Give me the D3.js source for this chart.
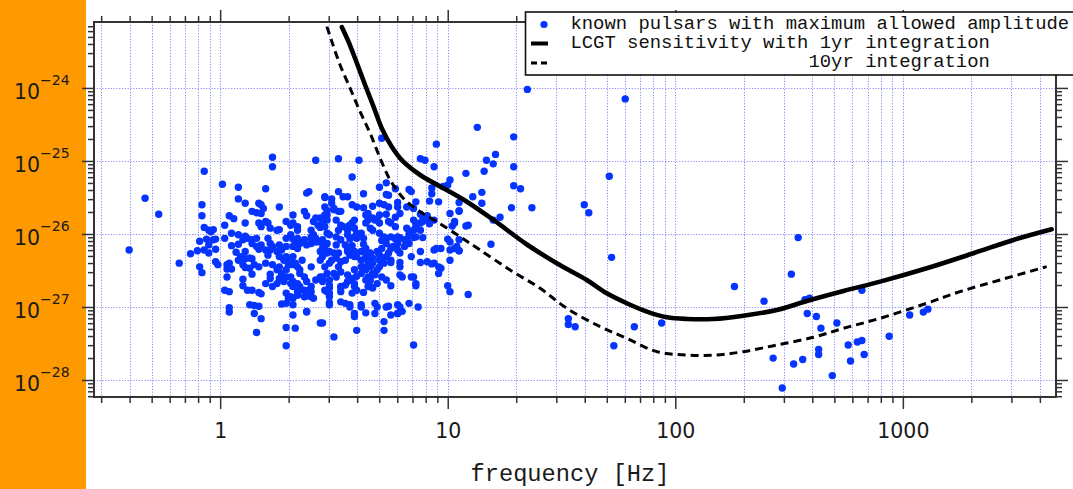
<!DOCTYPE html>
<html>
<head>
<meta charset="utf-8">
<script src="https://cdn.jsdelivr.net/npm/d3@7"></script>
<style>
  html, body { margin: 0; padding: 0; background: #fff; overflow: hidden; }
  svg { display: block; }
</style>
</head>
<body>
<svg id="chart" width="1073" height="489"></svg>
<script>
// LCGT sensitivity, 1 yr integration: log10 frequency [Hz] and log10 strain amplitude
const sens1yrLogF = [0.535,0.564,0.601,0.637,0.674,0.710,0.754,0.805,0.879,0.981,1.084,1.201,1.348,1.479,1.611,1.699,1.787,1.875,1.963,2.051,2.167,2.299,2.446,2.578,2.739,2.900,3.105,3.310,3.486,3.654];
const sens1yrLogH = [-23.168,-23.366,-23.662,-23.959,-24.256,-24.552,-24.804,-25.010,-25.192,-25.374,-25.558,-25.808,-26.144,-26.401,-26.630,-26.812,-26.949,-27.064,-27.141,-27.164,-27.164,-27.119,-27.041,-26.918,-26.781,-26.653,-26.470,-26.264,-26.082,-25.936];

// LCGT sensitivity, 10 yr integration
const sens10yrLogF = [0.469,0.491,0.527,0.571,0.615,0.659,0.703,0.747,0.805,0.879,0.952,1.054,1.142,1.274,1.406,1.523,1.670,1.787,1.919,2.051,2.182,2.299,2.446,2.607,2.739,2.900,3.105,3.251,3.427,3.632];
const sens10yrLogH = [-23.160,-23.366,-23.685,-24.004,-24.325,-24.621,-24.963,-25.260,-25.511,-25.695,-25.832,-26.037,-26.219,-26.493,-26.744,-27.018,-27.270,-27.429,-27.612,-27.658,-27.658,-27.612,-27.521,-27.415,-27.292,-27.155,-26.949,-26.790,-26.630,-26.448];

// Known pulsars with maximum allowed amplitude: [log10 f, log10 h]
const pulsars = [
  [-0.40,-26.22],[-0.33,-25.51],[-0.27,-25.73],[-0.18,-26.40],[-0.13,-26.27],[-0.10,-26.23],[-0.09,-26.10],[-0.08,-25.60],
  [-0.08,-25.75],[-0.07,-25.14],[-0.07,-25.91],[-0.06,-26.07],[-0.05,-26.15],[-0.05,-26.26],[-0.05,-25.95],[-0.03,-25.94],
  [-0.02,-26.07],[-0.02,-26.21],[-0.02,-26.38],[-0.01,-26.42],[-0.09,-26.45],[-0.08,-26.53],[-0.03,-26.08],[-0.07,-26.22],[-0.04,-25.97],
  [0.01,-25.32],[0.02,-25.88],[0.04,-25.75],[0.06,-25.79],[0.05,-26.16],[0.07,-26.25],[0.03,-26.48],[0.03,-26.59],[0.02,-26.77],
  [0.04,-26.79],[0.04,-27.01],[0.04,-27.07],[0.08,-25.36],[0.08,-25.52],[0.11,-25.58],[0.11,-25.85],[0.08,-26.01],[0.11,-26.03],
  [0.08,-26.14],[0.11,-26.34],[0.11,-26.46],[0.14,-26.34],[0.14,-26.55],[0.10,-26.62],[0.10,-26.71],[0.12,-26.77],[0.14,-26.77],
  [0.17,-26.80],[0.18,-26.82],[0.13,-26.97],[0.15,-26.98],[0.17,-26.99],[0.15,-27.09],[0.18,-27.16],[0.16,-27.35],[0.02,-26.06],
  [0.05,-25.99],[0.10,-26.08],[0.12,-26.06],[0.14,-26.08],[0.16,-26.06],[0.14,-26.13],[0.16,-26.17],[0.17,-26.21],[0.18,-26.15],
  [0.21,-26.06],[0.22,-26.13],[0.20,-26.22],[0.22,-26.22],[0.21,-26.29],[0.23,-26.17],[0.25,-26.24],[0.26,-26.15],[0.27,-26.22],
  [0.26,-26.31],[0.11,-26.24],[0.09,-26.31],[0.08,-26.36],[0.10,-26.42],[0.13,-26.33],[0.15,-26.42],[0.13,-26.47],[0.17,-26.45],
  [0.03,-26.42],[0.04,-26.40],[0.05,-26.48],[0.22,-26.55],
  [0.23,-24.95],[0.23,-25.08],[0.42,-24.99],[0.20,-25.38],[0.39,-25.42],[0.38,-25.44],[0.46,-25.49],[0.17,-25.58],[0.18,-25.60],
  [0.26,-25.63],[0.14,-25.69],[0.16,-25.71],[0.18,-25.72],[0.19,-25.65],[0.32,-25.74],[0.37,-25.69],[0.38,-25.75],[0.44,-25.78],
  [0.47,-25.74],[0.17,-25.85],[0.18,-25.90],[0.20,-25.83],[0.21,-25.85],[0.22,-25.92],[0.26,-25.94],[0.25,-25.95],[0.29,-25.83],
  [0.31,-25.88],[0.32,-25.85],[0.34,-25.90],[0.34,-25.95],[0.41,-25.83],[0.43,-25.88],[0.40,-25.95],[0.44,-25.91],[0.45,-25.85],
  [0.29,-26.06],[0.31,-26.01],[0.32,-26.07],[0.34,-26.06],[0.33,-26.13],[0.32,-26.17],[0.34,-26.20],[0.35,-26.13],[0.37,-26.08],
  [0.38,-26.15],[0.40,-26.13],[0.40,-26.06],[0.41,-26.01],[0.42,-26.06],[0.42,-26.11],[0.44,-26.11],[0.45,-26.08],[0.47,-26.13],
  [0.45,-26.20],[0.28,-26.36],[0.29,-26.31],[0.31,-26.36],[0.30,-26.42],[0.32,-26.42],[0.33,-26.40],[0.34,-26.45],[0.35,-26.49],
  [0.36,-26.36],[0.27,-26.54],[0.26,-26.61],[0.25,-26.68],[0.28,-26.65],[0.29,-26.59],[0.31,-26.59],[0.31,-26.68],[0.32,-26.65],
  [0.34,-26.68],[0.32,-26.72],[0.35,-26.72],[0.37,-26.59],[0.38,-26.65],[0.40,-26.72],[0.39,-26.77],[0.40,-26.79],[0.37,-26.77],
  [0.42,-26.63],[0.44,-26.59],[0.47,-26.54],[0.45,-26.65],[0.48,-26.74],[0.47,-26.79],[0.29,-26.81],[0.30,-26.88],[0.29,-26.95],
  [0.32,-26.88],[0.34,-26.84],[0.34,-26.79],[0.37,-26.86],[0.38,-26.85],[0.40,-26.86],[0.27,-26.96],[0.32,-27.11],[0.29,-27.28],
  [0.33,-27.29],[0.38,-27.07],[0.44,-27.22],[0.29,-27.53],[0.50,-27.41],[0.20,-26.40],[0.23,-26.42],[0.25,-26.49],[0.22,-26.61],
  [0.20,-26.68],[0.23,-26.72],
  [0.71,-24.69],[0.95,-24.77],[0.52,-24.97],[0.61,-24.99],[0.88,-24.97],[0.90,-24.99],[0.94,-25.08],[1.08,-25.17],[0.58,-25.22],
  [0.73,-25.30],[1.01,-25.26],[1.00,-25.33],[0.70,-25.36],[0.77,-25.38],[0.93,-25.37],[0.98,-25.35],[0.83,-25.39],[0.84,-25.42],
  [0.52,-25.42],[0.63,-25.45],[0.74,-25.47],[0.46,-25.50],[0.49,-25.52],[0.49,-25.58],[0.56,-25.49],[0.93,-25.45],[0.92,-25.55],
  [0.96,-25.56],[0.86,-25.56],[1.05,-25.57],[0.70,-25.58],[0.58,-25.60],[0.60,-25.63],[0.78,-25.57],[0.78,-25.63],[0.82,-25.63],
  [0.67,-25.62],[0.72,-25.60],[0.74,-25.63],[0.73,-25.73],[0.46,-25.63],[0.47,-25.68],[0.50,-25.67],[0.53,-25.69],[0.63,-25.64],
  [0.85,-25.65],[0.88,-25.73],[0.89,-25.76],[0.91,-25.75],[1.01,-25.72],[1.05,-25.69],[0.79,-25.72],[0.64,-25.74],[0.67,-25.78],
  [0.65,-25.81],[0.70,-25.74],[0.69,-25.81],[0.70,-25.85],[0.47,-25.81],[0.51,-25.81],[0.53,-25.88],[0.52,-25.95],[0.59,-25.81],
  [0.58,-25.85],[0.56,-25.90],[0.59,-25.92],[0.56,-25.95],[0.74,-25.83],[0.75,-25.85],[0.77,-25.77],[0.77,-25.90],[0.85,-25.81],
  [0.86,-25.85],[0.86,-25.90],[0.88,-25.95],[0.89,-25.83],[0.92,-25.81],[0.92,-25.86],[1.03,-25.83],[1.02,-25.89],[1.08,-25.89],
  [0.66,-25.92],[0.67,-25.95],[0.82,-25.92],[0.83,-25.96],[0.46,-25.90],[0.47,-25.99],[0.48,-26.01],[0.62,-25.99],[0.63,-26.06],
  [0.60,-26.06],[0.70,-25.99],[0.72,-26.04],[0.73,-26.06],[0.71,-26.09],[0.73,-26.13],[0.75,-26.04],[0.77,-26.07],[0.79,-26.05],
  [0.78,-26.13],[0.81,-26.08],[0.83,-26.13],[0.83,-26.01],[0.85,-26.05],[0.86,-26.04],[0.89,-26.05],[1.00,-26.07],[1.05,-26.08],
  [1.04,-26.17],[0.51,-26.04],[0.53,-26.08],[0.51,-26.15],[0.56,-26.01],[0.57,-26.07],[0.59,-26.04],[0.45,-26.13],[0.46,-26.20],
  [0.44,-26.24],[0.47,-26.26],[0.45,-26.31],[0.48,-26.24],[0.50,-26.26],[0.52,-26.26],[0.51,-26.33],[0.53,-26.38],[0.49,-26.36],
  [0.55,-26.15],[0.56,-26.22],[0.58,-26.16],[0.59,-26.24],[0.57,-26.29],[0.59,-26.31],[0.55,-26.36],[0.63,-26.14],[0.64,-26.20],
  [0.62,-26.24],[0.66,-26.26],[0.64,-26.31],[0.67,-26.33],[0.65,-26.38],[0.62,-26.36],[0.69,-26.24],[0.71,-26.20],[0.70,-26.29],
  [0.73,-26.31],[0.71,-26.36],[0.74,-26.26],[0.75,-26.36],[0.76,-26.17],[0.78,-26.22],[0.79,-26.26],[0.81,-26.17],[0.88,-26.24],
  [0.84,-26.31],[0.94,-26.22],[0.97,-26.20],[1.01,-26.22],[1.03,-26.20],[1.05,-26.23],[0.94,-26.40],[0.96,-26.45],[0.91,-26.38],
  [0.93,-26.41],[0.88,-26.39],[0.97,-26.47],[0.96,-26.54],[1.01,-26.36],[0.79,-26.39],[0.79,-26.45],[0.75,-26.39],[0.72,-26.40],
  [0.70,-26.45],[0.69,-26.49],[0.68,-26.56],[0.66,-26.45],[0.64,-26.49],[0.67,-26.54],[0.65,-26.59],[0.64,-26.63],[0.62,-26.45],
  [0.62,-26.54],[0.60,-26.58],[0.59,-26.49],[0.58,-26.61],[0.56,-26.56],[0.56,-26.65],[0.55,-26.70],[0.52,-26.45],[0.53,-26.52],
  [0.50,-26.54],[0.51,-26.59],[0.48,-26.40],[0.46,-26.45],[0.45,-26.59],[0.48,-26.63],[0.48,-26.70],[0.46,-26.77],[0.53,-26.72],
  [0.53,-26.79],[0.59,-26.72],[0.60,-26.77],[0.58,-26.81],[0.63,-26.80],[0.65,-26.72],[0.67,-26.74],[0.69,-26.68],[0.66,-26.63],
  [0.71,-26.59],[0.75,-26.71],[0.80,-26.59],[0.84,-26.59],[0.86,-26.71],[1.00,-26.71],[1.01,-26.79],[1.09,-26.83],[0.48,-26.86],
  [0.48,-26.94],[0.53,-26.93],[0.55,-26.95],[0.57,-27.00],[0.59,-27.09],[0.59,-27.13],[0.62,-26.97],[0.64,-27.08],[0.68,-26.95],
  [0.68,-27.09],[0.74,-26.99],[0.78,-26.97],[0.80,-27.06],[0.78,-27.09],[0.75,-27.11],[0.87,-27.00],[0.72,-27.20],[0.72,-27.32],
  [0.60,-27.32],[0.45,-27.22],[0.85,-27.52],
  [0.42,-25.78],[0.46,-25.74],[0.50,-25.65],[0.52,-25.69],[0.54,-25.49],[0.65,-25.72],[0.73,-25.46],[0.64,-25.85],[0.68,-25.81],
  [0.57,-25.88],[0.54,-25.90],[0.60,-25.99],[0.40,-26.04],[0.29,-26.17],[0.32,-26.31],[0.26,-26.45],[0.29,-26.49],[0.35,-26.54],
  [0.40,-26.45],[0.44,-26.36],[0.56,-26.24],[0.60,-26.31],[0.64,-26.24],[0.63,-26.45],[0.67,-26.40],[0.70,-26.36],[0.75,-26.20],
  [0.78,-26.04],[0.82,-26.08],[0.85,-25.95],[0.88,-25.85],[0.94,-25.81],[0.95,-26.20],[1.01,-26.11],[1.03,-25.85],[0.86,-26.68],
  [0.85,-26.59],[0.79,-26.56],[0.73,-26.63],[0.66,-26.72],[0.59,-26.68],[0.53,-26.74],[0.48,-26.81],[0.41,-26.88],[0.35,-26.77],
  [0.31,-26.86],[0.32,-26.97],[0.38,-27.06],[0.48,-26.97],[0.57,-26.97],[0.62,-27.00],[0.69,-27.00],[0.73,-27.00],[0.79,-27.00],
  [0.78,-27.09],[0.83,-26.95],
  [1.35,-24.02],[1.78,-24.15],[1.13,-24.54],[1.29,-24.67],[1.21,-24.91],[1.17,-24.99],[1.20,-25.04],[1.16,-25.14],[1.29,-25.08],
  [1.71,-25.21],[1.29,-25.34],[1.32,-25.38],[1.11,-25.49],[1.15,-25.43],[1.15,-25.58],[1.28,-25.64],[1.37,-25.64],[1.60,-25.60],
  [1.62,-25.71],[1.23,-25.77],[1.20,-25.81],[1.05,-25.68],[1.09,-25.88],[1.19,-26.14],[1.05,-26.23],[1.72,-26.32],[1.53,-27.16],
  [1.53,-27.24],[1.56,-27.27],[1.82,-27.27],[1.73,-27.53],[1.94,-27.22],[2.26,-26.72],[2.39,-26.92],[2.54,-26.05],[2.51,-26.55],
  [2.57,-26.90],[2.59,-26.88],[2.58,-27.09],[2.62,-27.13],[2.64,-27.29],[2.71,-27.22],[2.43,-27.70],[2.52,-27.78],[2.56,-27.72],
  [2.47,-28.11],[2.63,-27.58],[2.63,-27.65],[2.69,-27.94],[2.76,-27.52],[2.77,-27.74],[2.80,-27.48],[2.82,-27.46],[2.83,-27.65],
  [2.82,-26.77],[2.94,-27.40],[3.03,-27.11],[3.09,-27.07],[3.11,-27.03]
];

// Axis labelling
const majorFreqTicks = [1, 10, 100, 1000];
const majorAmpTicks = [1e-28, 1e-27, 1e-26, 1e-25, 1e-24];
const xAxisTitle = "frequency [Hz]";
const legendLabels = [
  "known pulsars with maximum allowed amplitude",
  "LCGT sensitivity with 1yr integration",
  "                     10yr integration"
];

const W = 1073, H = 489;
const plot = { left: 94, right: 1056, top: 22, bottom: 397 };
const BLUE = "#0533ff";
const GRID = "#8b8bff";
const AXIS = "#333";

const svg = d3.select("#chart");

// orange side band
svg.append("rect").attr("x", 0).attr("y", 0).attr("width", 86).attr("height", H).attr("fill", "#ff9900");

const x = d3.scaleLog().domain([0.279, 4710]).range([plot.left, plot.right]);
const y = d3.scaleLog().domain([5.85e-29, 8.0e-24]).range([plot.bottom, plot.top]);

const isDecade = v => Math.abs(Math.log10(v) - Math.round(Math.log10(v))) < 1e-6;
const xTicks = x.ticks().filter(v => v >= x.domain()[0] && v <= x.domain()[1]);
const yTicks = y.ticks().filter(v => v >= y.domain()[0] && v <= y.domain()[1]);
const xMinor = xTicks.filter(v => !isDecade(v));
const yMinor = yTicks.filter(v => !isDecade(v));

// grid: every frequency tick, decades in amplitude
const grid = svg.append("g").attr("stroke", GRID).attr("stroke-width", 1).attr("stroke-dasharray", "1.2,1.6");
grid.selectAll("line.v").data(xTicks).join("line").attr("class", "v")
  .attr("x1", d => Math.round(x(d)) + 0.5).attr("x2", d => Math.round(x(d)) + 0.5)
  .attr("y1", plot.top).attr("y2", plot.bottom);
grid.selectAll("line.h").data(majorAmpTicks).join("line").attr("class", "h")
  .attr("y1", d => Math.round(y(d)) + 0.5).attr("y2", d => Math.round(y(d)) + 0.5)
  .attr("x1", plot.left).attr("x2", plot.right);

// axes (minor and major ticks on all four sides)
function styleAxis(g) {
  g.select(".domain").remove();
  g.selectAll(".tick line").attr("stroke", AXIS).attr("stroke-width", 1.5);
}
const addAxis = (axis, tx, ty) => svg.append("g").attr("transform", `translate(${tx},${ty})`).call(axis).call(styleAxis);

addAxis(d3.axisBottom(x).tickValues(xMinor).tickSize(6).tickFormat(() => ""), 0, plot.bottom);
const xb = addAxis(d3.axisBottom(x).tickValues(majorFreqTicks).tickSize(12).tickFormat(d3.format("d")), 0, plot.bottom);
xb.selectAll("text").attr("y", 41).attr("dy", null)
  .attr("font-family", "DejaVu Sans, Verdana, sans-serif").attr("font-size", 20.5).attr("fill", "#1a1a1a");

addAxis(d3.axisTop(x).tickValues(xMinor).tickSize(6).tickFormat(() => ""), 0, plot.top);
addAxis(d3.axisTop(x).tickValues(majorFreqTicks).tickSize(12).tickFormat(() => ""), 0, plot.top);

addAxis(d3.axisLeft(y).tickValues(yMinor).tickSize(6).tickFormat(() => ""), plot.left, 0);
addAxis(d3.axisLeft(y).tickValues(majorAmpTicks).tickSize(12).tickFormat(() => ""), plot.left, 0);
addAxis(d3.axisRight(y).tickValues(yMinor).tickSize(6).tickFormat(() => ""), plot.right, 0);
addAxis(d3.axisRight(y).tickValues(majorAmpTicks).tickSize(12).tickFormat(() => ""), plot.right, 0);

// amplitude labels as powers of ten
const yLab = svg.append("g").attr("font-family", "DejaVu Sans, Verdana, sans-serif").attr("fill", "#1a1a1a");
majorAmpTicks.forEach(v => {
  const e = Math.round(Math.log10(v));
  const t = yLab.append("text").attr("x", 14).attr("y", y(v) + 11).attr("font-size", 20.5);
  t.append("tspan").text("10");
  t.append("tspan").attr("dy", -14).attr("font-size", 14).text("\u2212" + Math.abs(e));
});

// frame
svg.append("rect").attr("x", plot.left).attr("y", plot.top)
  .attr("width", plot.right - plot.left).attr("height", plot.bottom - plot.top)
  .attr("fill", "none").attr("stroke", AXIS).attr("stroke-width", 2);

// pulsar points
svg.append("g").selectAll("circle").data(pulsars).join("circle")
  .attr("cx", d => x(Math.pow(10, d[0])))
  .attr("cy", d => y(Math.pow(10, d[1])))
  .attr("r", 3.7).attr("fill", BLUE);

// sensitivity curves
const toPts = (lf, lh) => lf.map((f, i) => [Math.pow(10, f), Math.pow(10, lh[i])]);
const line = d3.line().x(d => x(d[0])).y(d => y(d[1])).curve(d3.curveCatmullRom);

svg.append("path").attr("d", line(toPts(sens10yrLogF, sens10yrLogH)))
  .attr("fill", "none").attr("stroke", "#000").attr("stroke-width", 3)
  .attr("stroke-dasharray", "8,5");
svg.append("path").attr("d", line(toPts(sens1yrLogF, sens1yrLogH)))
  .attr("fill", "none").attr("stroke", "#000").attr("stroke-width", 4.6)
  .attr("stroke-linecap", "round").attr("stroke-linejoin", "round");

// x-axis title
svg.append("text").attr("x", 570).attr("y", 481).attr("text-anchor", "middle")
  .attr("font-family", "Liberation Mono, Courier New, monospace").attr("font-size", 23.7)
  .attr("fill", "#1a1a1a").text(xAxisTitle);

// legend
const lg = svg.append("g");
lg.append("rect").attr("x", 525.5).attr("y", 12).attr("width", 570).attr("height", 63)
  .attr("fill", "#fff").attr("stroke", "#111").attr("stroke-width", 1.6);
lg.append("circle").attr("cx", 544).attr("cy", 24.5).attr("r", 3.6).attr("fill", BLUE);
lg.append("line").attr("x1", 531).attr("x2", 548).attr("y1", 43.5).attr("y2", 43.5)
  .attr("stroke", "#000").attr("stroke-width", 4);
lg.append("line").attr("x1", 531).attr("x2", 548).attr("y1", 63).attr("y2", 63)
  .attr("stroke", "#000").attr("stroke-width", 3).attr("stroke-dasharray", "6,4");
legendLabels.forEach((s, i) => {
  lg.append("text").attr("x", 570.4).attr("y", 28.5 + i * 19.2)
    .attr("xml:space", "preserve").style("white-space", "pre")
    .attr("font-family", "Liberation Mono, Courier New, monospace").attr("font-size", 18.9)
    .attr("fill", "#111").text(s);
});
</script>
</body>
</html>
